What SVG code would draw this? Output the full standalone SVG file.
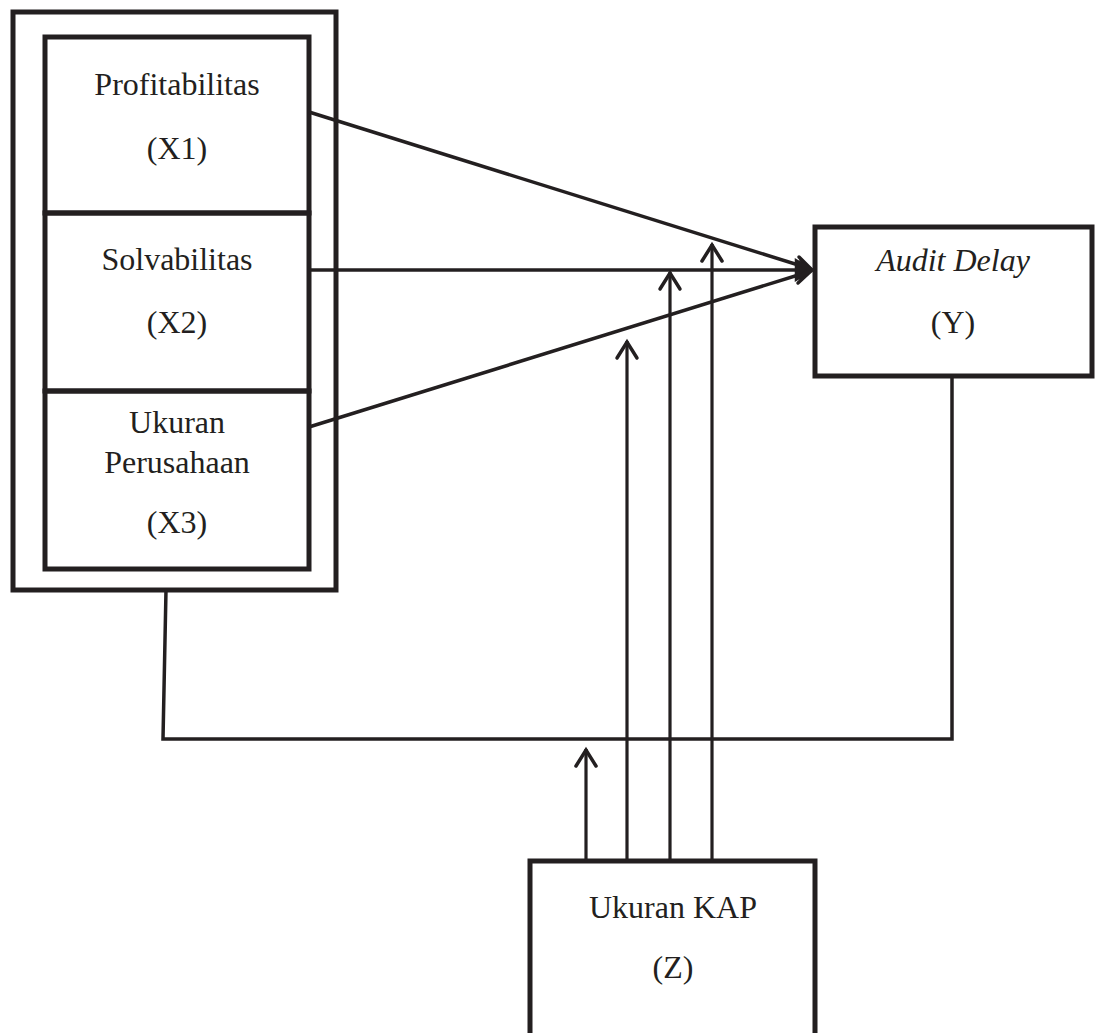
<svg xmlns="http://www.w3.org/2000/svg" width="1099" height="1033" viewBox="0 0 1099 1033">
<defs>
<style>
.box{fill:none;stroke:#231f20;stroke-width:5;stroke-linejoin:miter}
.ln{fill:none;stroke:#231f20;stroke-width:3.5}
.vl{fill:none;stroke:#231f20;stroke-width:3.2}
.hd{fill:none;stroke:#231f20;stroke-width:3.5;stroke-linecap:round;stroke-linejoin:miter}
.hb{fill:#231f20;stroke:#231f20;stroke-width:4.5;stroke-linecap:round;stroke-linejoin:miter}
text{font-family:"Liberation Serif","Times New Roman",serif;font-size:32px;fill:#231f20;text-anchor:middle}
</style>
</defs>
<rect width="1099" height="1033" fill="#fff"/>
<g id="outer">
<rect class="box" x="13" y="12" width="323" height="578"/>
</g>
<g id="x1">
<rect class="box" x="45" y="37" width="264" height="176"/>
<text x="177" y="95">Profitabilitas</text>
<text x="177" y="159">(X1)</text>
</g>
<g id="x2">
<rect class="box" x="45" y="213" width="264" height="178"/>
<text x="177" y="270">Solvabilitas</text>
<text x="177" y="333">(X2)</text>
</g>
<g id="x3">
<rect class="box" x="45" y="391" width="264" height="178"/>
<text x="177" y="433">Ukuran</text>
<text x="177" y="473">Perusahaan</text>
<text x="177" y="533">(X3)</text>
</g>
<g id="y">
<rect class="box" x="815" y="227" width="277" height="149"/>
<text x="953" y="271" font-style="italic">Audit Delay</text>
<text x="953" y="333">(Y)</text>
</g>
<g id="z">
<path class="box" d="M530,1036 V861 H815 V1036"/>
<text x="673" y="918">Ukuran KAP</text>
<text x="673" y="978">(Z)</text>
</g>
<g id="connectors">
<line class="ln" x1="309" y1="112" x2="808" y2="268"/>
<line class="ln" x1="309" y1="270" x2="808" y2="270"/>
<line class="ln" x1="309" y1="427" x2="808" y2="272"/>
<path class="hd" d="M799,257 L811,269 L801,279" stroke-width="4.5"/>
<path class="hd" d="M801,260 L811,271 L798,283" stroke-width="4.5"/>
<path class="hb" d="M797,262 L811,270 L797,278 Z"/>
<path class="ln" d="M166,590 L163,739 H952 V376" stroke-width="4"/>
<line class="vl" x1="586" y1="861" x2="586" y2="749"/>
<line class="vl" x1="627" y1="861" x2="627" y2="341"/>
<line class="vl" x1="670" y1="861" x2="670" y2="272"/>
<line class="vl" x1="712" y1="861" x2="712" y2="244"/>
<path class="hd" d="M576,766 L586,750 L596,766"/>
<path class="hd" d="M617,358 L627,342 L637,358"/>
<path class="hd" d="M660,289 L670,273 L680,289"/>
<path class="hd" d="M702,261 L712,245 L722,261"/>
</g>
</svg>
